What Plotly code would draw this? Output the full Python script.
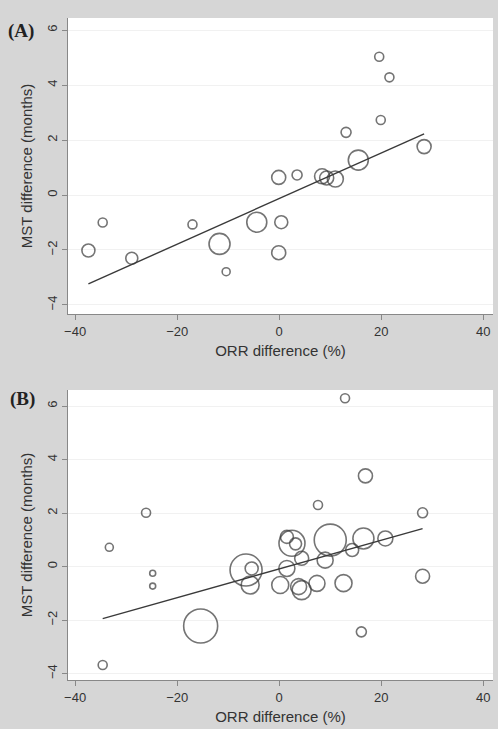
import plotly.graph_objects as go

# Panel A data
a_orr = [19.6, 21.6, 19.9, 13.1, 28.4, 15.5, -0.1, 3.5, 8.4, 9.3, 11.0,
         -34.6, -37.4, -28.9, -17.0, -11.7, -4.4, 0.4, -0.1, -10.4]
a_mst = [5.03, 4.28, 2.73, 2.28, 1.76, 1.27, 0.64, 0.73, 0.68, 0.62, 0.58,
         -1.0, -2.02, -2.3, -1.07, -1.78, -0.99, -0.99, -2.1, -2.79]
a_wt = [9, 9, 9, 10, 14, 20, 14, 10, 15, 14, 16,
        9, 13, 12, 9, 21, 20, 13, 14, 8]
a_slope, a_intercept = 0.083, -0.13

# Panel B data
b_orr = [12.9, 16.9, 7.6, -26.1, 28.1, -33.3, -24.8, -24.8, -34.6, -15.4,
         -6.5, -5.4, -5.7, 1.5, 0.2, 3.8, 4.4, 7.4, 12.6, 4.4,
         9.0, 14.3, 10.0, 16.5, 20.8, 2.5, 1.5, 3.2, 16.1, 28.1]
b_mst = [6.29, 3.39, 2.30, 2.01, 2.01, 0.72, -0.25, -0.73, -3.68, -2.22,
         -0.13, -0.07, -0.69, -0.07, -0.69, -0.75, -0.88, -0.63, -0.62, 0.31,
         0.24, 0.62, 0.99, 1.05, 1.05, 0.87, 1.11, 0.85, -2.44, -0.36]
b_wt = [9, 14, 9, 9, 10, 8, 6, 6, 9, 34,
        32, 13, 18, 16, 17, 16, 19, 16, 17, 14,
        16, 13, 32, 21, 15, 26, 13, 12, 10, 14]
b_slope, b_intercept = 0.0537, -0.09

x_ticks = [-40, -20, 0, 20, 40]
y_ticks = [-4, -2, 0, 2, 4, 6]

W, H = 498, 729
LINE = "#3a3a3a"
BG = "#d6d6d6"

fig = go.Figure()


def add_panel(xs, ys, ws, slope, icpt, xa, ya):
    fig.add_trace(go.Scatter(
        x=xs, y=ys, mode="markers", xaxis=xa, yaxis=ya,
        marker=dict(size=ws, color="rgba(0,0,0,0)",
                    line=dict(color=LINE, width=1.6)),
        showlegend=False, hoverinfo="x+y"))
    x0, x1 = min(xs), max(xs)
    fig.add_trace(go.Scatter(
        x=[x0, x1], y=[icpt + slope * x0, icpt + slope * x1],
        mode="lines", xaxis=xa, yaxis=ya,
        line=dict(color=LINE, width=1.4), showlegend=False))


add_panel(a_orr, a_mst, a_wt, a_slope, a_intercept, "x", "y")
add_panel(b_orr, b_mst, b_wt, b_slope, b_intercept, "x2", "y2")

xdom = [68 / W, 493 / W]
ydomA = [(H - 314) / H, (H - 18) / H]
ydomB = [(H - 680) / H, (H - 390) / H]

axfont = dict(family="Liberation Sans, Arial", size=13, color="#333")
titlefont = dict(family="Liberation Sans, Arial", size=15, color="#333")

common_x = dict(range=[-41.4, 41.9], tickvals=x_ticks, ticks="outside",
                ticklen=5, tickcolor="#888", showline=True, linecolor="#888",
                linewidth=1, showgrid=False, zeroline=False, tickfont=axfont,
                automargin=False,
                title=dict(text="ORR difference (%)", font=titlefont, standoff=7))
common_y = dict(tickvals=y_ticks, ticks="outside", ticklen=5, tickcolor="#888",
                showline=True, linecolor="#888", linewidth=1, showgrid=True,
                gridcolor="#f1f1f1", zeroline=False, tickfont=axfont,
                tickangle=-90, automargin=False,
                title=dict(text="MST difference (months)", font=titlefont, standoff=8))

fig.update_layout(
    width=W, height=H,
    margin=dict(l=0, r=0, t=0, b=0),
    paper_bgcolor=BG, plot_bgcolor="white",
    xaxis=dict(domain=xdom, anchor="y", **common_x),
    yaxis=dict(domain=ydomA, anchor="x", range=[-4.33, 6.44], **common_y),
    xaxis2=dict(domain=xdom, anchor="y2", **common_x),
    yaxis2=dict(domain=ydomB, anchor="x2", range=[-4.24, 6.6], **common_y),
    annotations=[
        dict(text="<b>(A)</b>", x=6 / W, y=1 - 31 / H, xref="paper", yref="paper",
             xanchor="left", yanchor="middle", showarrow=False,
             font=dict(family="Liberation Serif, Times New Roman", size=19, color="#222")),
        dict(text="<b>(B)</b>", x=8 / W, y=1 - 399 / H, xref="paper", yref="paper",
             xanchor="left", yanchor="middle", showarrow=False,
             font=dict(family="Liberation Serif, Times New Roman", size=19, color="#222")),
    ],
)

fig.write_html(
    "out.html",
    config={"displayModeBar": False},
    post_script="document.body.style.margin='0';document.body.style.overflow='hidden';"
                "document.documentElement.style.background='%s';" % BG,
)
